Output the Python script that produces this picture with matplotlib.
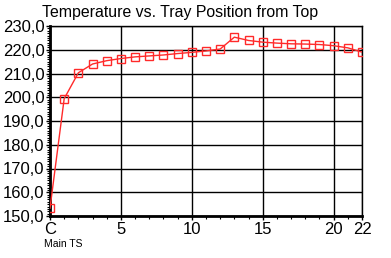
import matplotlib
matplotlib.use("Agg")
import matplotlib.pyplot as plt
from matplotlib.ticker import MultipleLocator

plt.rcParams['font.family'] = ['Liberation Sans', 'DejaVu Sans']

tray = list(range(0, 23))
temperature = [153.3, 199.4, 210.3, 214.0, 215.4, 216.3, 217.0, 217.4, 217.8, 218.4,
               218.9, 219.5, 220.3, 225.3, 223.9, 223.2, 222.8, 222.5, 222.4, 222.2,
               221.7, 220.8, 219.0]
xticks = [0, 5, 10, 15, 20, 22]
xtick_labels = ["C", "5", "10", "15", "20", "22"]
yticks = [150, 160, 170, 180, 190, 200, 210, 220, 230]
ytick_labels = ["150,0", "160,0", "170,0", "180,0", "190,0", "200,0", "210,0", "220,0", "230,0"]

fig = plt.figure(figsize=(3.91, 2.58), dpi=100)
ax = fig.add_axes([50/391, 1-216/258, (362-50)/391, (216-26)/258])

ax.plot(tray, temperature, color='#ff2a2a', lw=1.0, marker='s', markersize=6,
        markerfacecolor='none', markeredgecolor='#ff2a2a', markeredgewidth=1.0, zorder=3)

ax.set_xlim(0, 22)
ax.set_ylim(150, 230)
ax.set_xticks(xticks)
ax.set_xticklabels(xtick_labels)
ax.set_yticks(yticks)
ax.set_yticklabels(ytick_labels)
ax.yaxis.set_minor_locator(MultipleLocator(1))
ax.xaxis.set_minor_locator(MultipleLocator(1))
ax.tick_params(axis='both', which='major', labelsize=12, length=3, width=1, pad=1)
ax.tick_params(axis='both', which='minor', length=2, width=0.8)
ax.grid(True, which='major', color='black', lw=1.0)

for s in ['left', 'bottom']:
    ax.spines[s].set_linewidth(2)
for s in ['top', 'right']:
    ax.spines[s].set_linewidth(1)

fig.text(42/391, 1-12/258, "Temperature vs. Tray Position from Top", fontsize=11.4,
         ha='left', va='center')
fig.text(44/391, 1-244/258, "Main TS", fontsize=7.5, ha='left', va='center')

fig.savefig("out.png", dpi=100)
